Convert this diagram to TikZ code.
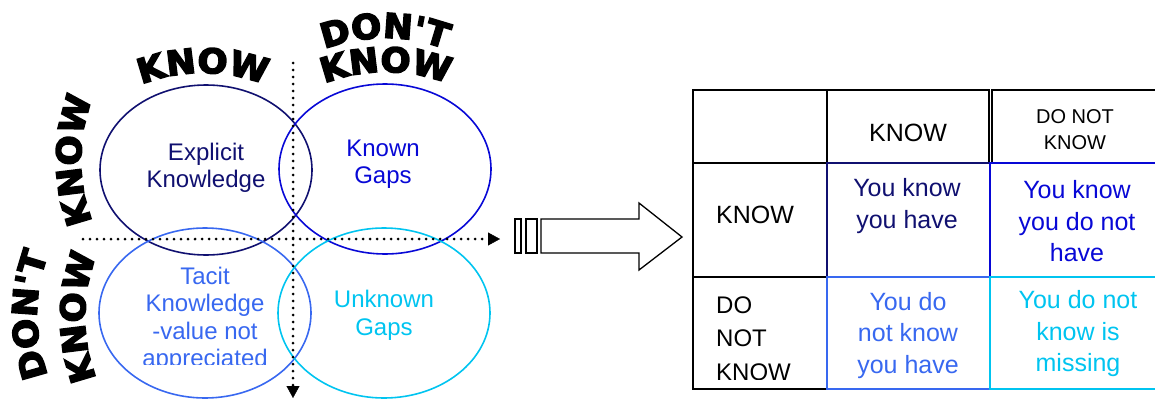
\documentclass[tikz,border=0pt]{standalone}
\usepackage{fontspec}
\setmainfont{Liberation Sans}
\newfontfamily\wordart{DejaVu Sans Bold}[FakeBold=4.5, FakeStretch=1.04]
\newcommand\wordartfont{\wordart\fontsize{34}{36}\selectfont}
\usetikzlibrary{positioning, shapes.geometric, arrows.meta, decorations.text}

\definecolor{navyink}{RGB}{16,16,112}
\definecolor{blueink}{RGB}{8,8,214}
\definecolor{royalink}{RGB}{56,104,240}
\definecolor{cyanink}{RGB}{0,196,240}

\begin{document}
\begin{tikzpicture}[x=1pt, y=1pt,
    venn/.style={ellipse, draw, line width=1.6pt, minimum width=212pt, minimum height=170pt},
    venntext/.style={align=center, inner sep=0pt, font=\fontsize{24}{27.5}\selectfont},
    axis/.style={line width=3pt, line cap=round, dash pattern=on 0pt off 7pt,
      -{Triangle[length=12pt, width=13pt, line width=0.4pt]}},
    cell/.style={rectangle, draw, line width=1.4pt, inner sep=0pt},
    celltext/.style={align=center, inner sep=0pt, font=\fontsize{25}{31.5}\selectfont},
    arch/.style={decorate, decoration={text along path, text align=center, text={|\wordartfont|#1}}}]
  \useasboundingbox (0,0) rectangle (1155,400);

  % four circles
  \node[venn, draw=navyink] (explicit) at (206,230) {};
  \node[venn, draw=blueink] (known) at (385,231) {};
  \node[venn, draw=royalink] (tacit) at (205,87) {};
  \node[venn, draw=cyanink] (unknown) at (384,87) {};

  \node[venntext, text=navyink] (explicittxt) at (206,232) {Explicit\\Knowledge};
  \node[venntext, text=blueink] (knowntxt) at (383,236) {Known\\Gaps};
  \node[venntext, text=cyanink] (unknowntxt) at (384,84.5) {Unknown\\Gaps};
  \begin{scope}
    \clip (90,36) rectangle (320,160);
    \node[venntext, text=royalink] (tacittxt) at (205,80.5)
      {Tacit\\Knowledge\\-value not\\appreciated};
  \end{scope}

  % dotted axes
  \coordinate (vtop) at (293,337);
  \coordinate (vbot) at (293,2);
  \coordinate (hleft) at (83,161);
  \coordinate (hright) at (500,161);
  \draw[axis] (vtop) -- (vbot);
  \draw[axis] (hleft) -- (hright);

  % arched headings
  \path[arch=KNOW] (203,157) ++(110:170) arc[start angle=110, end angle=70, radius=170];
  \path[arch=DON'T] (385,192) ++(110:170) arc[start angle=110, end angle=70, radius=170];
  \path[arch=KNOW] (386,158) ++(110:170) arc[start angle=110, end angle=70, radius=170];
  \path[arch=KNOW] (251,240) ++(200:170) arc[start angle=200, end angle=160, radius=170];
  \path[arch=DON'T] (207,85) ++(200:170) arc[start angle=200, end angle=160, radius=170];
  \path[arch=KNOW] (255,83) ++(200:170) arc[start angle=200, end angle=160, radius=170];

  % hollow arrow
  \draw[line width=1.3pt] (515,147) rectangle (521,181);
  \draw[line width=1.3pt] (526,147) rectangle (537,181);
  \draw[line width=1.3pt, line join=miter] (541,147) -- (639,147) -- (639,130) -- (682,163)
    -- (639,197) -- (639,181) -- (541,181) -- cycle;

  % table
  \node[cell, minimum width=134pt, minimum height=73pt] (corner) at (760,273.5) {};
  \node[cell, minimum width=162pt, minimum height=73pt] (hknow) at (908,273.5) {};
  \node[cell, minimum width=166pt, minimum height=73pt] (hdont) at (1075,273.5) {};
  \node[cell, minimum width=134pt, minimum height=114pt] (rknow) at (760,180) {};
  \node[cell, minimum width=134pt, minimum height=112pt] (rdont) at (760,67) {};
  \node[cell, line width=2pt, draw=navyink, minimum width=163pt, minimum height=114pt] (kk) at (908.5,180) {};
  \node[cell, line width=2pt, draw=blueink, minimum width=167pt, minimum height=114pt] (kd) at (1073.5,180) {};
  \node[cell, line width=2pt, draw=royalink, minimum width=163pt, minimum height=112pt] (dk) at (908.5,67) {};
  \node[cell, line width=2pt, draw=cyanink, minimum width=167pt, minimum height=112pt] (dd) at (1073.5,67) {};

  \node[celltext] (hknowtxt) at (908,267) {KNOW};
  \node[celltext, font=\fontsize{20}{26}\selectfont] (hdonttxt) at (1075,270) {DO NOT\\KNOW};
  \node[celltext, anchor=west] (rknowtxt) at (716,185) {KNOW};
  \node[celltext, text=navyink] (kktxt) at (907,194) {You know\\you have};
  \node[celltext, text=blueink] (kdtxt) at (1077,178.5) {You know\\you do not\\have};
  \begin{scope}
    \clip (690,21) rectangle (1160,125);
    \node[celltext, anchor=west, align=left, font=\fontsize{24}{33.5}\selectfont] (rdonttxt) at (716,61.5) {DO\\NOT\\KNOW};
    \node[celltext, text=royalink] (dktxt) at (908,64.5) {You do\\not know\\you have};
    \node[celltext, text=cyanink] (ddtxt) at (1078,66) {You do not\\know is\\missing};
  \end{scope}
\end{tikzpicture}
\end{document}
